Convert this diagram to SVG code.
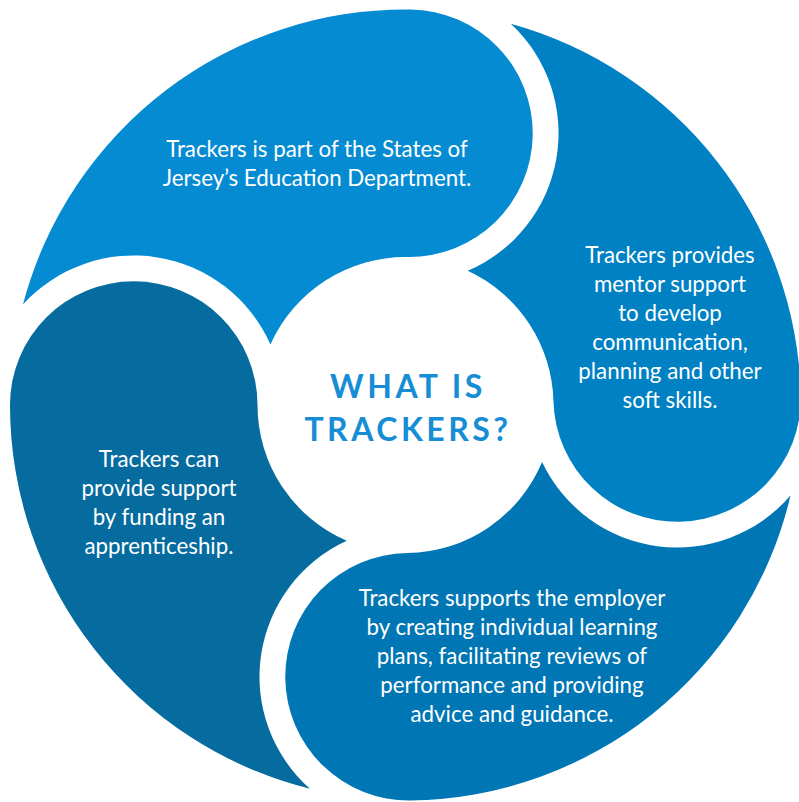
<svg xmlns="http://www.w3.org/2000/svg" width="799" height="802" viewBox="0 0 799 802">
<style>
.t{font-family:Lato,"Open Sans","Liberation Sans",sans-serif;font-size:22.3px;fill:#ffffff;text-anchor:middle}
.h{font-family:Lato,"Open Sans","Liberation Sans",sans-serif;font-size:32px;font-weight:700;fill:#168dd4;text-anchor:middle;letter-spacing:3.5px}
</style>
<rect width="799" height="802" fill="#ffffff"/>
<g id="seg-top">
<path fill="#058bd2" d="M 22.96 304.57 A 395.5 395.5 0 0 1 410.59 9.53 A 123.75 123.75 0 0 1 532.74 134.86 A 123.75 123.75 0 0 1 407.41 257.01 A 148 148 0 0 0 270.44 344.47 A 149.5 149.5 0 0 0 22.96 304.57 Z"/>
<text class="t" x="317" y="157">Trackers is part of the States of</text>
<text class="t" x="317" y="186">Jersey’s Education Department.</text>
</g>
<g id="seg-right">
<path fill="#0081c4" d="M 510.86 23.79 A 395.5 395.5 0 0 1 800.87 394.81 A 123.75 123.75 0 0 1 680.35 521.71 A 123.75 123.75 0 0 1 553.45 401.19 A 148 148 0 0 0 467.76 270.73 A 149.5 149.5 0 0 0 510.86 23.79 Z"/>
<text class="t" x="670" y="263">Trackers provides</text>
<text class="t" x="670" y="292">mentor support</text>
<text class="t" x="670" y="321">to develop</text>
<text class="t" x="670" y="350">communication,</text>
<text class="t" x="670" y="379">planning and other</text>
<text class="t" x="670" y="408">soft skills.</text>
</g>
<g id="seg-bottom">
<path fill="#0176b4" d="M 790.5 495.53 A 395.5 395.5 0 0 1 410.59 800.47 A 123.75 123.75 0 0 1 285.26 678.32 A 123.75 123.75 0 0 1 407.41 552.99 A 148 148 0 0 0 542.07 462.02 A 149.5 149.5 0 0 0 790.5 495.53 Z"/>
<text class="t" x="512" y="606">Trackers supports the employer</text>
<text class="t" x="512" y="635">by creating individual learning</text>
<text class="t" x="512" y="664">plans, facilitating reviews of</text>
<text class="t" x="512" y="693">performance and providing</text>
<text class="t" x="512" y="722">advice and guidance.</text>
</g>
<g id="seg-left">
<path fill="#066b9f" d="M 310.02 788.8 A 395.5 395.5 0 0 1 10 405 A 123.75 123.75 0 0 1 133.75 281.25 A 123.75 123.75 0 0 1 257.5 405 A 148 148 0 0 0 346.72 540.83 A 149.5 149.5 0 0 0 310.02 788.8 Z"/>
<text class="t" x="159" y="467">Trackers can</text>
<text class="t" x="159" y="496">provide support</text>
<text class="t" x="159" y="525">by funding an</text>
<text class="t" x="159" y="554">apprenticeship.</text>
</g>
<g id="center">
<text class="h" x="408" y="398">WHAT IS</text>
<text class="h" x="408" y="441">TRACKERS?</text>
</g>
</svg>
